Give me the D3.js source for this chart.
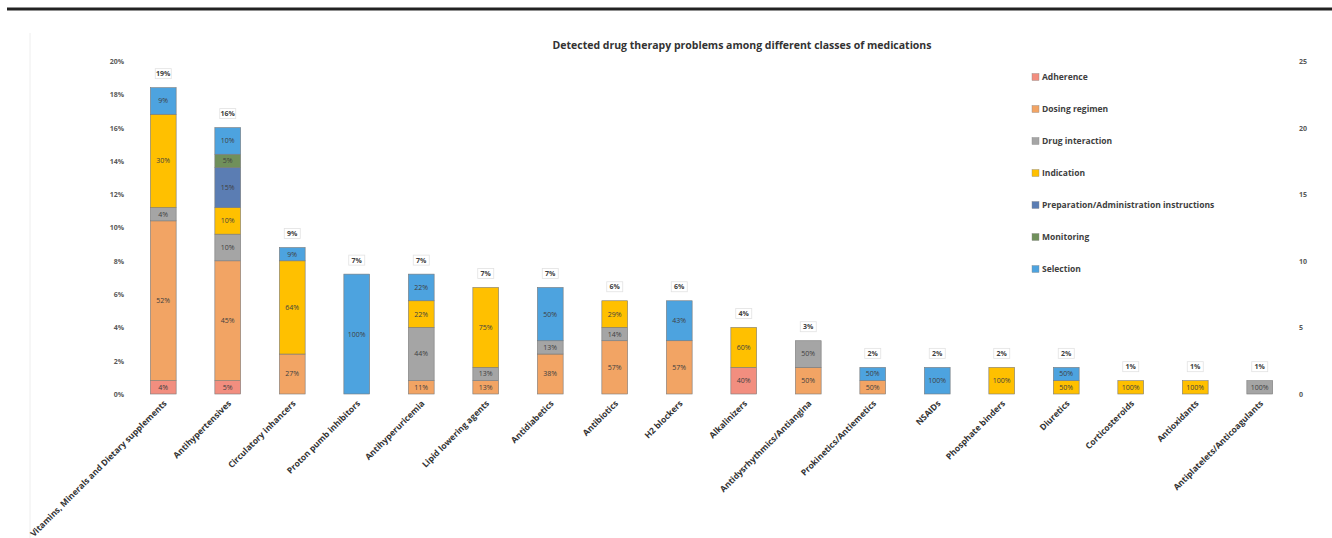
<!DOCTYPE html>
<html lang="en">
<meta charset="UTF-8">
<style>
    body{ margin:0; background:#fff; }
    text{ font-family:"Open Sans",Calibri,sans-serif; }
    .tick text{ font-size:7px; font-weight:bold; fill:#595959; }
    .seg{ font-size:7px; fill:#404040; }
    .tot{ font-size:7px; font-weight:bold; fill:#404040; }
    .xlab{ font-size:8.5px; font-weight:bold; fill:#333; }
    .leg{ font-size:8.5px; font-weight:bold; fill:#404040; }
</style>
<body>
<div id="chart"></div>
<script src="https://cdn.jsdelivr.net/npm/d3@7"></script>
<script>
    var width = 1332, height = 538;

    var categories = ["Vitamins, Minerals and Dietary supplements","Antihypertensives","Circulatory inhancers",
        "Proton pumb inhibitors","Antihyperuricemia","Lipid lowering agents","Antidiabetics","Antibiotics",
        "H2 blockers","Alkalinizers","Antidysrhythmics/Antiangina","Prokinetics/Antiemetics","NSAIDs",
        "Phosphate binders","Diuretics","Corticosteroids","Antioxidants","Antiplatelets/Anticoagulants"];

    var seriesNames = ["Adherence","Dosing regimen","Drug interaction","Indication",
        "Preparation/Administration instructions","Monitoring","Selection"];
    var seriesColors = ["#F28E7F","#F2A464","#A5A5A5","#FFC000","#5B7DB3","#70905B","#4DA3DF"];

    // counts of problems per class
    var adherence   = [1,1,0,0,0,0,0,0,0,2,0,0,0,0,0,0,0,0];
    var dosing      = [12,9,3,0,1,1,3,4,4,0,2,1,0,0,0,0,0,0];
    var interaction = [1,2,0,0,4,1,1,1,0,0,2,0,0,0,0,0,0,1];
    var indication  = [7,2,7,0,2,6,0,2,0,3,0,0,0,2,1,1,1,0];
    var preparation = [0,3,0,0,0,0,0,0,0,0,0,0,0,0,0,0,0,0];
    var monitoring  = [0,1,0,0,0,0,0,0,0,0,0,0,0,0,0,0,0,0];
    var selection   = [2,2,1,9,2,0,4,0,3,0,0,1,2,0,1,0,0,0];

    var totalLabels = ["19%","16%","9%","7%","7%","7%","7%","6%","6%","4%","3%","2%","2%","2%","2%","1%","1%","1%"];
    var leftTicks = [0,0.02,0.04,0.06,0.08,0.10,0.12,0.14,0.16,0.18,0.20];
    var rightTicks = [0,5,10,15,20,25];

    var series = [adherence,dosing,interaction,indication,preparation,monitoring,selection];

    var svg = d3.select("#chart").append("svg")
        .attr("width", width)
        .attr("height", height);

    // page rule and faint chart border
    svg.append("line").attr("x1",7).attr("x2",width).attr("y1",9).attr("y2",9)
        .attr("stroke","#222").attr("stroke-width",3);
    svg.append("line").attr("x1",30).attr("x2",30).attr("y1",33).attr("y2",538)
        .attr("stroke","#eee").attr("stroke-width",1);

    svg.append("text")
        .attr("x",742).attr("y",49)
        .attr("text-anchor","middle")
        .style("font-size","10.5px").style("font-weight","bold").style("fill","#333")
        .text("Detected drug therapy problems among different classes of medications");

    var x = d3.scaleBand()
        .domain(categories)
        .range([131,1292])
        .paddingInner(0.6)
        .paddingOuter(0.3);

    var y = d3.scaleLinear().domain([0,25]).range([394,61]);
    var yPct = d3.scaleLinear().domain([0,0.20]).range([394,61]);

    var leftAxis = svg.append("g")
        .attr("transform","translate(124,0)")
        .call(d3.axisLeft(yPct).tickValues(leftTicks).tickSize(0).tickPadding(0)
            .tickFormat(function(d){ return Math.round(d*100)+"%"; }));
    leftAxis.select(".domain").remove();
    leftAxis.selectAll("text").attr("dy","0.35em");

    var rightAxis = svg.append("g")
        .attr("transform","translate(1299,0)")
        .call(d3.axisRight(y).tickValues(rightTicks).tickSize(0).tickPadding(0));
    rightAxis.select(".domain").remove();
    rightAxis.selectAll("text").attr("dy","0.35em");

    // stack data
    var rows = categories.map(function(c,i){
        var r = {cat:c};
        seriesNames.forEach(function(s,k){ r[s] = series[k][i]; });
        r.total = d3.sum(series, function(a){ return a[i]; });
        return r;
    });
    var stack = d3.stack().keys(seriesNames)(rows);

    var layers = svg.append("g").selectAll("g")
        .data(stack)
        .enter().append("g")
        .attr("fill", function(d,i){ return seriesColors[i]; });

    layers.selectAll("rect")
        .data(function(d){ return d.filter(function(p){ return p[1]-p[0] > 0; }); })
        .enter().append("rect")
        .attr("x", function(d){ return x(d.data.cat); })
        .attr("width", x.bandwidth())
        .attr("y", function(d){ return y(d[1]); })
        .attr("height", function(d){ return y(d[0]) - y(d[1]); })
        .attr("stroke","#7a7a7a")
        .attr("stroke-width",0.6);

    layers.selectAll("text")
        .data(function(d){ return d.filter(function(p){ return p[1]-p[0] > 0; }); })
        .enter().append("text")
        .attr("class","seg")
        .attr("text-anchor","middle")
        .attr("x", function(d){ return x(d.data.cat) + x.bandwidth()/2; })
        .attr("y", function(d){ return (y(d[0]) + y(d[1]))/2; })
        .attr("dy","0.35em")
        .text(function(d){ return Math.round((d[1]-d[0])/d.data.total*100) + "%"; });

    // total labels in little boxes
    var tot = svg.append("g").selectAll("g")
        .data(rows)
        .enter().append("g")
        .attr("transform", function(d){
            return "translate(" + (x(d.cat) + x.bandwidth()/2) + "," + (y(d.total) - 14) + ")";
        });
    tot.append("rect")
        .attr("x",-8).attr("y",-5).attr("width",16).attr("height",10)
        .attr("fill","#fff").attr("stroke","#e2e2e2").attr("stroke-width",0.8);
    tot.append("text")
        .attr("class","tot")
        .attr("text-anchor","middle")
        .attr("dy","0.35em")
        .text(function(d,i){ return totalLabels[i]; });

    // rotated category labels
    svg.append("g").selectAll("text")
        .data(categories)
        .enter().append("text")
        .attr("class","xlab")
        .attr("text-anchor","end")
        .attr("transform", function(d){
            return "translate(" + (x(d) + x.bandwidth()/2 + 4) + ",404) rotate(-45)";
        })
        .text(function(d){ return d; });

    // legend
    var legend = svg.append("g").selectAll("g")
        .data(seriesNames)
        .enter().append("g")
        .attr("transform", function(d,i){ return "translate(1032," + (77 + 32*i) + ")"; });
    legend.append("rect")
        .attr("x",0).attr("y",-3.5).attr("width",7).attr("height",7)
        .attr("fill", function(d,i){ return seriesColors[i]; })
        .attr("stroke","#888").attr("stroke-width",0.4);
    legend.append("text")
        .attr("class","leg")
        .attr("x",10)
        .attr("dy","0.35em")
        .text(function(d){ return d; });
</script>
</body>
</html>
